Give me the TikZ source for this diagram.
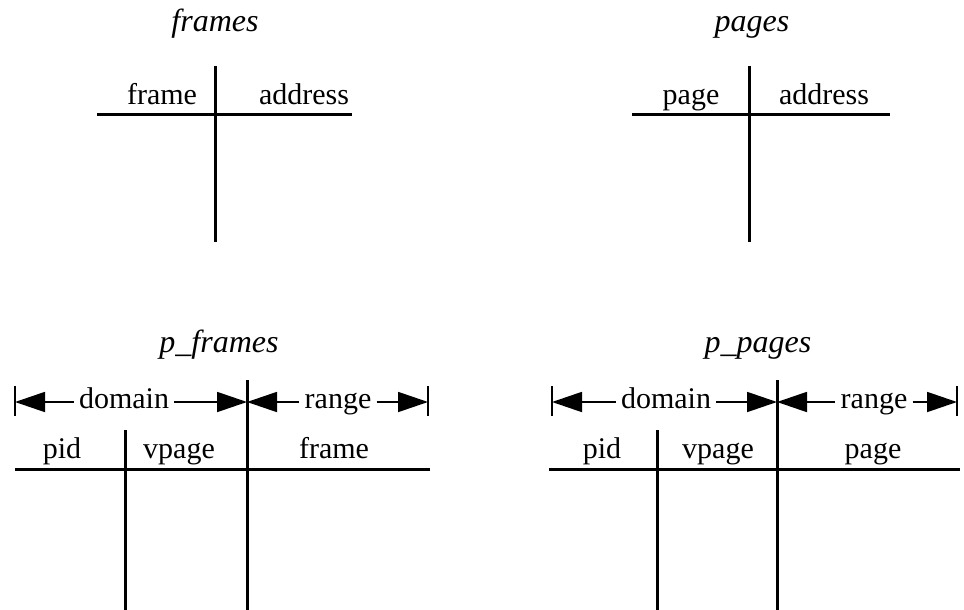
\documentclass[tikz,border=0pt]{standalone}
\usepackage{fontspec}
\setmainfont{Liberation Serif}
\usetikzlibrary{arrows.meta}
\tikzset{
  lbl/.style={inner sep=0pt, anchor=base, font=\fontsize{30}{34}\selectfont},
  ttl/.style={inner sep=0pt, anchor=base, font=\fontsize{32}{36}\selectfont\itshape},
  span/.style={inner xsep=5pt, inner ysep=0pt, text height=19pt, text depth=7pt,
               font=\fontsize{30}{34}\selectfont},
  rule/.style={line width=3pt},
  tick/.style={line width=2pt},
  dimarrow/.style={line width=1.8pt, -{Triangle[length=30pt,width=20pt]}},
}
\begin{document}
\begin{tikzpicture}[x=1pt, y=-1pt]
\useasboundingbox (0,0) rectangle (964,610);

% ---- frames ----
\node[ttl] (tFrames) at (215,32) {frames};
\node[lbl] (hFrame) at (162,104) {frame};
\node[lbl] (hFAddr) at (304,104) {address};
\coordinate (fV1) at (215,66);  \coordinate (fV2) at (215,242);
\coordinate (fH1) at (97,114);  \coordinate (fH2) at (352,114);
\draw[rule] (fH1) -- (fH2);
\draw[rule] (fV1) -- (fV2);

% ---- pages ----
\node[ttl] (tPages) at (752,32) {pages};
\node[lbl] (hPage) at (691,104) {page};
\node[lbl] (hPAddr) at (824,104) {address};
\coordinate (pV1) at (749,66);  \coordinate (pV2) at (749,242);
\coordinate (pH1) at (632,114); \coordinate (pH2) at (890,114);
\draw[rule] (pH1) -- (pH2);
\draw[rule] (pV1) -- (pV2);

% ---- p_frames ----
\node[ttl] (tPF) at (219,352) {p\_frames};
\node[span] (pfDom) at (124,402) {domain};
\node[span] (pfRng) at (338,402) {range};
\coordinate (pfL) at (15,402);
\coordinate (pfM) at (247,402);
\coordinate (pfR) at (428,402);
\draw[tick] (15,386) -- (15,416);
\draw[tick] (428,386) -- (428,416);
\draw[dimarrow] (pfDom.west) -- (pfL);
\draw[dimarrow] (pfDom.east) -- (pfM);
\draw[dimarrow] (pfRng.west) -- (pfM);
\draw[dimarrow] (pfRng.east) -- (pfR);
\node[lbl] (pfPid) at (62,458) {pid};
\node[lbl] (pfVpage) at (179,458) {vpage};
\node[lbl] (pfFrame) at (334,458) {frame};
\coordinate (pfH1) at (15,469); \coordinate (pfH2) at (430,469);
\draw[rule] (pfH1) -- (pfH2);
\draw[rule] (247,380) -- (247,610);
\draw[rule] (125,430) -- (125,610);

% ---- p_pages ----
\node[ttl] (tPP) at (758,352) {p\_pages};
\node[span] (ppDom) at (666,402) {domain};
\node[span] (ppRng) at (874,402) {range};
\coordinate (ppL) at (552,402);
\coordinate (ppM) at (777,402);
\coordinate (ppR) at (957,402);
\draw[tick] (552,386) -- (552,416);
\draw[tick] (957,386) -- (957,416);
\draw[dimarrow] (ppDom.west) -- (ppL);
\draw[dimarrow] (ppDom.east) -- (ppM);
\draw[dimarrow] (ppRng.west) -- (ppM);
\draw[dimarrow] (ppRng.east) -- (ppR);
\node[lbl] (ppPid) at (602,458) {pid};
\node[lbl] (ppVpage) at (718,458) {vpage};
\node[lbl] (ppPage) at (873,458) {page};
\coordinate (ppH1) at (549,469); \coordinate (ppH2) at (960,469);
\draw[rule] (ppH1) -- (ppH2);
\draw[rule] (777,380) -- (777,610);
\draw[rule] (657,430) -- (657,610);
\end{tikzpicture}
\end{document}
